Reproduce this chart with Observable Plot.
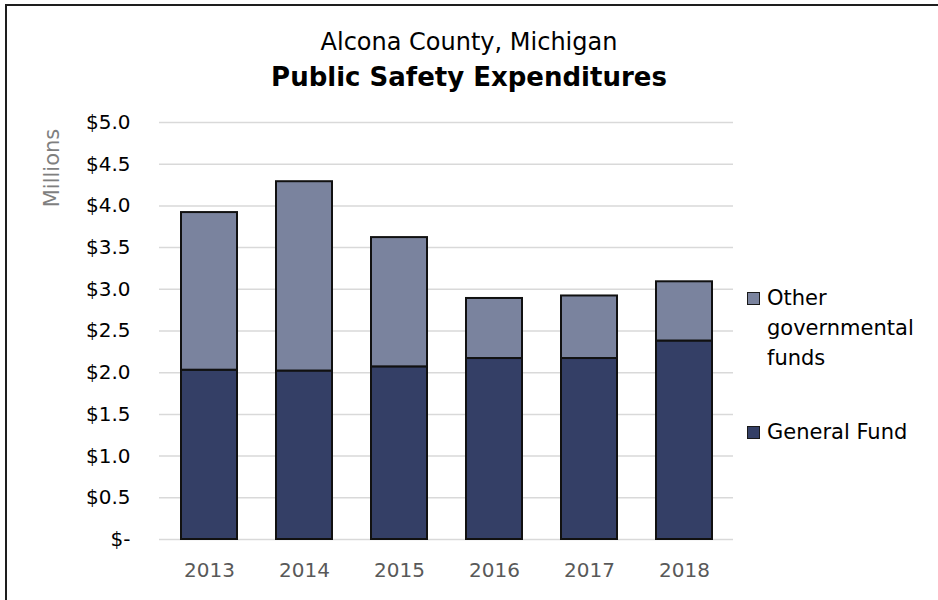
<!DOCTYPE html>
<html>
<head>
<meta charset="utf-8">
<script src="https://cdn.jsdelivr.net/npm/d3@7"></script>
<script src="https://cdn.jsdelivr.net/npm/@observablehq/plot@0.6"></script>
<style>
  html, body { margin: 0; padding: 0; background: #fff; overflow: hidden; }
  body { font-family: "DejaVu Sans", sans-serif; }
  #wrap { position: relative; width: 938px; height: 600px; overflow: hidden; }
  #frame { position: absolute; left: 5px; top: 4px; width: 1000px; height: 1000px; border: 2px solid #1e1e1e; box-sizing: border-box; }
  .title1 { position: absolute; left: 0; width: 938px; text-align: center; top: 28px; font-size: 24px; line-height: 28px; color: #000; }
  .title2 { position: absolute; left: 0; width: 938px; text-align: center; top: 62px; font-size: 26px; line-height: 30px; font-weight: bold; color: #000; }
  #plot { position: absolute; left: 0; top: 110px; }
  .ylab { position: absolute; left: 52px; top: 168px; transform: translate(-50%, -50%) rotate(-90deg); font-size: 21px; color: #7f7f7f; white-space: nowrap; }
  .leg { position: absolute; font-size: 21px; line-height: 30px; color: #000; }
  .sw { position: absolute; width: 13px; height: 13px; box-sizing: border-box; border: 1.5px solid #1a1a1a; }
</style>
</head>
<body>
<div id="wrap">
  <div id="frame"></div>
  <div class="title1">Alcona County, Michigan</div>
  <div class="title2">Public Safety Expenditures</div>
  <div class="ylab">Millions</div>
  <div id="plot"></div>
  <div id="legend"></div>
</div>
<script>
// ---- data ----
const years = ["2013", "2014", "2015", "2016", "2017", "2018"];
const seriesNames = ["General Fund", "Other governmental funds"];
const generalFund = [2.03, 2.02, 2.07, 2.17, 2.17, 2.38];
const otherFunds  = [1.89, 2.27, 1.55, 0.72, 0.75, 0.71];
const seriesColors = ["#343f66", "#7a839e"];
const yTicks = [0, 0.5, 1, 1.5, 2, 2.5, 3, 3.5, 4, 4.5, 5];
const legendLines = [["Other", "governmental", "funds"], ["General Fund"]];

const rows = [];
years.forEach((yr, i) => {
  rows.push({year: yr, series: seriesNames[0], value: generalFund[i]});
  rows.push({year: yr, series: seriesNames[1], value: otherFunds[i]});
});

const fmt = v => v === 0 ? "$-" : "$" + v.toFixed(1);

const chart = Plot.plot({
  width: 938,
  height: 490,
  marginTop: 12,
  marginBottom: 61,
  marginLeft: 159,
  marginRight: 205,
  style: {fontFamily: "DejaVu Sans, sans-serif", fontSize: "20px", background: "transparent"},
  x: {domain: years, paddingInner: 0.415, paddingOuter: 0.2, label: null},
  y: {domain: [0, 5], label: null},
  color: {domain: seriesNames, range: seriesColors},
  marks: [
    Plot.ruleY(yTicks, {stroke: "#d9d9d9", strokeWidth: 1.5}),
    Plot.barY(rows, {x: "year", y: "value", fill: "series", stroke: "#111", strokeWidth: 2}),
    Plot.axisY({ticks: yTicks, tickSize: 0, tickPadding: 29, tickFormat: fmt, fill: "#000", label: null, fontSize: 20}),
    Plot.axisX({tickSize: 0, tickPadding: 23, fill: "#595959", label: null, fontSize: 20})
  ]
});
document.getElementById("plot").appendChild(chart);

// legend (HTML), top entry = stacked top series
const leg = document.getElementById("legend");
const entries = [
  {color: seriesColors[1], lines: legendLines[0], top: 283, swTop: 292},
  {color: seriesColors[0], lines: legendLines[1], top: 417, swTop: 426}
];
entries.forEach(e => {
  const sw = document.createElement("div");
  sw.className = "sw";
  sw.style.left = "747px";
  sw.style.top = e.swTop + "px";
  sw.style.background = e.color;
  leg.appendChild(sw);
  const t = document.createElement("div");
  t.className = "leg";
  t.style.left = "767px";
  t.style.top = e.top + "px";
  t.innerHTML = e.lines.join("<br>");
  leg.appendChild(t);
});
</script>
</body>
</html>
